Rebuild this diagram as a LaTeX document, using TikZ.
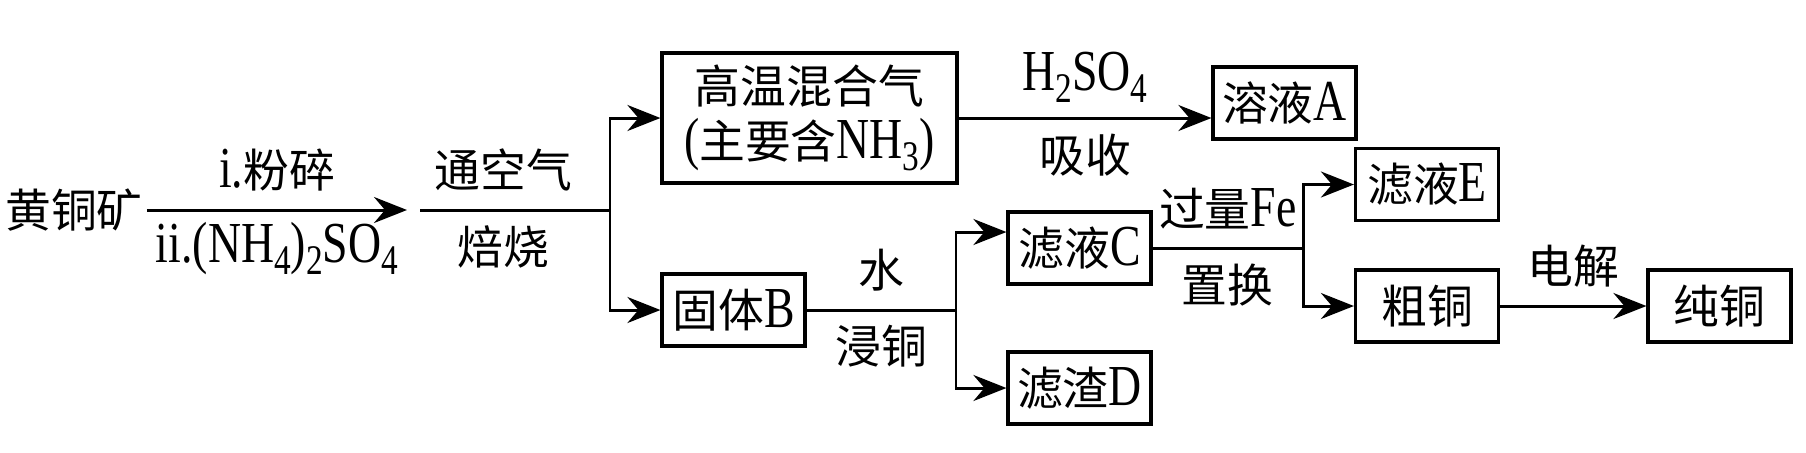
\documentclass[tikz,border=0pt]{standalone}
\usepackage{fontspec}
\setmainfont{Liberation Serif}[FakeStretch=0.79]
\newfontfamily\cjk{Noto Sans CJK SC}[Scale=0.79]
\usetikzlibrary{arrows.meta}
\newcommand{\zh}[1]{{\cjk #1}}
\newcommand{\low}[1]{\raisebox{-3.4pt}{\fontsize{12}{12}\selectfont #1}}
\tikzset{
  stage/.style={rectangle,draw=black,line width=0.9pt,minimum width=1.43cm,minimum height=0.72cm,inner sep=1pt,align=center},
  arrow/.style={-{Stealth[length=3.3mm,width=2.6mm,inset=1.1mm]},line width=0.85pt},
  link/.style={line width=0.85pt},
  note/.style={inner sep=1pt,align=center}
}

\begin{document}
\begin{tikzpicture}[font=\fontsize{16.5}{15.6}\selectfont]
  \useasboundingbox (0,0) rectangle (18.06,4.52);
  \node[note] (ore) at (0.74,2.42) {\zh{黄铜矿}};
  \coordinate (crushed) at (4.07,2.42);
  \coordinate (roast) at (4.20,2.42);
  \coordinate (fork1) at (6.10,2.42);
  \node[stage,minimum width=2.95cm,minimum height=1.30cm] (gas) at (8.095,3.34) {\zh{高温混合气}\\(\zh{主要含}NH\low{3})};
  \node[stage] (solidB) at (7.335,1.42) {\zh{固体}B};
  \node[stage] (solA) at (12.845,3.49) {\zh{溶液}A};
  \coordinate (fork2) at (9.56,1.42);
  \node[stage] (filC) at (10.795,2.04) {\zh{滤液}C};
  \node[stage] (resD) at (10.795,0.64) {\zh{滤渣}D};
  \coordinate (fork3) at (13.03,2.04);
  \node[stage] (filE) at (14.27,2.675) {\zh{滤液}E};
  \node[stage] (crude) at (14.27,1.46) {\zh{粗铜}};
  \node[stage] (pure) at (17.195,1.46) {\zh{纯铜}};

  \draw[arrow] (ore.east) -- (crushed)
    node[note,midway,above=4pt] {i.\zh{粉碎}}
    node[note,midway,below=2pt] {ii.(NH\low{4})\low{2}SO\low{4}};
  \draw[link] (roast) -- (fork1)
    node[note,pos=0.44,above=4pt] {\zh{通空气}}
    node[note,pos=0.44,below=3pt] {\zh{焙烧}};
  \draw[arrow] (fork1) |- (gas.west);
  \draw[arrow] (fork1) |- (solidB.west);
  \draw[arrow] (gas.east) -- (gas.east -| solA.west)
    node[note,midway,above=3pt] {H\low{2}SO\low{4}}
    node[note,midway,below=3pt] {\zh{吸收}};
  \draw[link] (solidB.east) -- (fork2)
    node[note,midway,above=4pt] {\zh{水}}
    node[note,midway,below=3pt] {\zh{浸铜}};
  \draw[arrow] (fork2) |- ([yshift=0.16cm]filC.west);
  \draw[arrow] (fork2) |- (resD.west);
  \draw[link] (filC.east) -- (fork3)
    node[note,midway,above=4pt] {\zh{过量}Fe}
    node[note,midway,below=3pt] {\zh{置换}};
  \draw[arrow] (fork3) |- (filE.west);
  \draw[arrow] (fork3) |- (crude.west);
  \draw[arrow] (crude) -- (pure)
    node[note,midway,above=4pt] {\zh{电解}};
\end{tikzpicture}
\end{document}
